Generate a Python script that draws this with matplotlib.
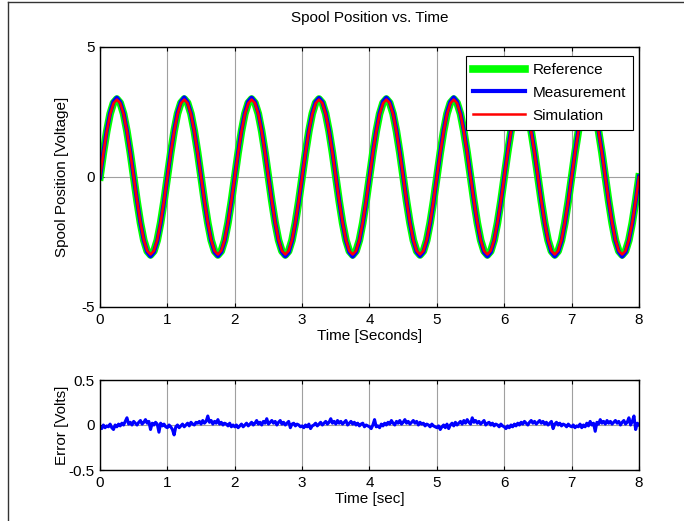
import numpy as np
import matplotlib
matplotlib.use('Agg')
import matplotlib.pyplot as plt
from matplotlib.lines import Line2D

plt.rcParams['font.family'] = ['Liberation Sans', 'DejaVu Sans']
plt.rcParams['font.size'] = 11
plt.rcParams['axes.unicode_minus'] = False

# time samples (seconds)
t = np.arange(161) * 0.05
t_err = np.arange(321) * 0.025

reference = [
    0.00, 0.93, 1.76, 2.43, 2.85, 3.00, 2.85, 2.43, 1.76, 0.93, 0.00, -0.93, -1.76, -2.43, -2.85, -3.00, -2.85, -2.43, -1.76, -0.93,
    0.00, 0.93, 1.76, 2.43, 2.85, 3.00, 2.85, 2.43, 1.76, 0.93, 0.00, -0.93, -1.76, -2.43, -2.85, -3.00, -2.85, -2.43, -1.76, -0.93,
    0.00, 0.93, 1.76, 2.43, 2.85, 3.00, 2.85, 2.43, 1.76, 0.93, 0.00, -0.93, -1.76, -2.43, -2.85, -3.00, -2.85, -2.43, -1.76, -0.93,
    0.00, 0.93, 1.76, 2.43, 2.85, 3.00, 2.85, 2.43, 1.76, 0.93, 0.00, -0.93, -1.76, -2.43, -2.85, -3.00, -2.85, -2.43, -1.76, -0.93,
    0.00, 0.93, 1.76, 2.43, 2.85, 3.00, 2.85, 2.43, 1.76, 0.93, 0.00, -0.93, -1.76, -2.43, -2.85, -3.00, -2.85, -2.43, -1.76, -0.93,
    0.00, 0.93, 1.76, 2.43, 2.85, 3.00, 2.85, 2.43, 1.76, 0.93, 0.00, -0.93, -1.76, -2.43, -2.85, -3.00, -2.85, -2.43, -1.76, -0.93,
    0.00, 0.93, 1.76, 2.43, 2.85, 3.00, 2.85, 2.43, 1.76, 0.93, 0.00, -0.93, -1.76, -2.43, -2.85, -3.00, -2.85, -2.43, -1.76, -0.93,
    0.00, 0.93, 1.76, 2.43, 2.85, 3.00, 2.85, 2.43, 1.76, 0.93, 0.00, -0.93, -1.76, -2.43, -2.85, -3.00, -2.85, -2.43, -1.76, -0.93,
    0.00,
]

measurement = [
    -0.02, 0.95, 1.79, 2.46, 2.90, 3.05, 2.88, 2.45, 1.77, 0.94, 0.01, -0.92, -1.77, -2.44, -2.88, -3.05, -2.89, -2.46, -1.79, -0.95,
    0.01, 0.96, 1.78, 2.47, 2.89, 3.06, 2.87, 2.44, 1.76, 0.93, -0.01, -0.94, -1.78, -2.45, -2.89, -3.04, -2.88, -2.45, -1.77, -0.94,
    0.02, 0.95, 1.80, 2.46, 2.90, 3.05, 2.89, 2.46, 1.78, 0.95, 0.02, -0.92, -1.76, -2.44, -2.88, -3.05, -2.90, -2.46, -1.78, -0.95,
    0.00, 0.94, 1.79, 2.45, 2.89, 3.04, 2.88, 2.45, 1.78, 0.95, 0.01, -0.93, -1.77, -2.45, -2.89, -3.06, -2.89, -2.45, -1.78, -0.96,
    -0.01, 0.95, 1.78, 2.46, 2.90, 3.05, 2.89, 2.46, 1.79, 0.95, 0.02, -0.92, -1.76, -2.44, -2.88, -3.04, -2.88, -2.46, -1.79, -0.95,
    -0.01, 0.94, 1.79, 2.47, 2.89, 3.06, 2.89, 2.45, 1.78, 0.96, 0.02, -0.93, -1.78, -2.45, -2.90, -3.05, -2.89, -2.45, -1.78, -0.94,
    0.01, 0.96, 1.79, 2.46, 2.90, 3.05, 2.88, 2.46, 1.77, 0.95, 0.01, -0.92, -1.77, -2.44, -2.89, -3.05, -2.88, -2.46, -1.78, -0.95,
    -0.01, 0.95, 1.80, 2.47, 2.89, 3.05, 2.89, 2.46, 1.78, 0.96, 0.03, -0.93, -1.76, -2.44, -2.88, -3.06, -2.90, -2.45, -1.79, -0.94,
    0.02,
]

simulation = [
    0.00, 0.92, 1.75, 2.41, 2.83, 2.98, 2.84, 2.42, 1.75, 0.92, 0.00, -0.92, -1.75, -2.42, -2.84, -2.98, -2.84, -2.42, -1.75, -0.92,
    0.00, 0.92, 1.75, 2.41, 2.83, 2.98, 2.84, 2.42, 1.75, 0.92, 0.00, -0.92, -1.75, -2.42, -2.84, -2.98, -2.84, -2.42, -1.75, -0.92,
    0.00, 0.92, 1.75, 2.41, 2.83, 2.98, 2.84, 2.42, 1.75, 0.92, 0.00, -0.92, -1.75, -2.42, -2.84, -2.98, -2.84, -2.42, -1.75, -0.92,
    0.00, 0.92, 1.75, 2.41, 2.83, 2.98, 2.84, 2.42, 1.75, 0.92, 0.00, -0.92, -1.75, -2.42, -2.84, -2.98, -2.84, -2.42, -1.75, -0.92,
    0.00, 0.92, 1.75, 2.41, 2.83, 2.98, 2.84, 2.42, 1.75, 0.92, 0.00, -0.92, -1.75, -2.42, -2.84, -2.98, -2.84, -2.42, -1.75, -0.92,
    0.00, 0.92, 1.75, 2.41, 2.83, 2.98, 2.84, 2.42, 1.75, 0.92, 0.00, -0.92, -1.75, -2.42, -2.84, -2.98, -2.84, -2.42, -1.75, -0.92,
    0.00, 0.92, 1.75, 2.41, 2.83, 2.98, 2.84, 2.42, 1.75, 0.92, 0.00, -0.92, -1.75, -2.42, -2.84, -2.98, -2.84, -2.42, -1.75, -0.92,
    0.00, 0.92, 1.75, 2.41, 2.83, 2.98, 2.84, 2.42, 1.75, 0.92, 0.00, -0.92, -1.75, -2.42, -2.84, -2.98, -2.84, -2.42, -1.75, -0.92,
    0.00,
]

error = [
    -0.02, -0.04, 0.00, -0.03, -0.01, -0.02, 0.01, -0.03, -0.05, 0.00, -0.02, 0.01, -0.01, 0.02, 0.00, 0.04, 0.08, 0.01, 0.03, 0.00,
    0.04, 0.02, 0.00, 0.03, 0.05, 0.01, 0.03, 0.06, 0.02, 0.04, -0.05, 0.02, 0.00, 0.03, 0.01, -0.08, 0.02, -0.01, 0.01, -0.02,
    -0.03, 0.00, -0.02, -0.05, -0.11, -0.02, 0.00, -0.03, -0.01, 0.01, -0.02, 0.00, 0.02, -0.01, 0.03, 0.01, 0.00, 0.03, 0.02, 0.04,
    0.01, 0.05, 0.02, 0.04, 0.10, 0.03, 0.05, 0.01, 0.04, 0.02, 0.06, 0.01, 0.03, 0.00, 0.02, 0.01, -0.01, 0.02, -0.02, 0.00,
    -0.02, 0.00, -0.03, -0.01, 0.01, -0.02, 0.00, 0.02, -0.01, 0.01, 0.03, 0.00, 0.02, 0.05, 0.01, 0.03, 0.00, 0.04, 0.02, 0.07,
    0.01, 0.03, 0.05, 0.02, 0.04, 0.00, 0.03, 0.05, 0.01, 0.03, 0.00, 0.02, 0.04, -0.03, 0.01, 0.02, -0.01, 0.01, 0.00, -0.02,
    -0.01, -0.03, 0.00, -0.02, 0.01, -0.04, -0.01, 0.00, 0.02, -0.01, 0.01, 0.03, 0.00, 0.02, 0.04, 0.01, 0.03, 0.07, 0.02, 0.04,
    0.01, 0.05, 0.02, 0.04, 0.01, 0.03, 0.05, 0.00, 0.02, 0.04, 0.01, 0.03, 0.00, 0.02, -0.01, 0.01, 0.02, -0.02, 0.00, -0.01,
    -0.02, -0.04, 0.00, 0.06, -0.02, -0.01, -0.03, 0.01, -0.01, 0.02, 0.00, 0.03, 0.01, 0.05, 0.02, 0.00, 0.04, 0.02, 0.05, 0.01,
    0.03, 0.06, 0.02, 0.04, 0.01, 0.03, 0.05, 0.02, 0.04, 0.00, 0.03, 0.01, 0.02, -0.01, 0.01, 0.00, -0.02, 0.01, -0.01, -0.02,
    -0.03, -0.01, -0.05, -0.02, 0.00, -0.03, 0.01, -0.04, 0.00, 0.02, -0.01, 0.03, 0.00, 0.02, 0.04, 0.01, 0.05, 0.02, 0.06, 0.03,
    0.01, 0.08, 0.03, 0.05, 0.02, 0.04, 0.01, 0.03, 0.05, 0.00, 0.02, 0.03, 0.00, 0.02, -0.01, 0.01, 0.00, -0.02, 0.01, -0.01,
    -0.02, -0.04, -0.01, -0.03, 0.00, -0.02, 0.01, -0.01, 0.02, 0.00, 0.03, 0.01, 0.04, 0.02, 0.00, 0.03, 0.05, 0.02, 0.04, 0.01,
    0.03, 0.05, 0.02, 0.04, 0.01, 0.03, 0.00, 0.02, 0.04, -0.04, 0.01, 0.03, 0.00, 0.02, -0.01, 0.01, 0.00, -0.02, 0.01, -0.01,
    -0.02, 0.00, -0.03, -0.01, -0.02, 0.01, -0.03, 0.00, -0.02, 0.02, -0.01, 0.04, 0.00, 0.02, -0.07, 0.03, 0.01, 0.06, 0.02, 0.04,
    0.01, 0.05, 0.02, 0.04, 0.01, 0.03, 0.05, 0.02, 0.04, 0.00, 0.03, 0.05, 0.01, 0.03, 0.08, 0.00, 0.04, 0.10, -0.05, 0.02,
    0.00,
]

fig = plt.figure(figsize=(6.84, 5.21), dpi=100)

# frame around figure (left and top edges visible)
fig.add_artist(Line2D([8 / 684, 8 / 684], [0, 1 - 2 / 521], transform=fig.transFigure, color='#333333', lw=1))
fig.add_artist(Line2D([8 / 684, 1], [1 - 2 / 521, 1 - 2 / 521], transform=fig.transFigure, color='#333333', lw=1))


def style_axes(ax):
    ax.tick_params(direction='in', top=True, right=True, length=3, width=0.8, labelsize=11, pad=4)
    ax.grid(True, color='#a0a0a0', linewidth=0.8)
    ax.set_axisbelow(True)
    for s in ax.spines.values():
        s.set_linewidth(1.0)
    ax.yaxis.set_label_coords(-0.058, 0.5)


ax1 = fig.add_axes([100 / 684, 1 - 307 / 521, 539 / 684, 260 / 521])
ax1.plot(t, reference, color='#00ff00', linewidth=5.5, label='Reference')
ax1.plot(t, measurement, color='#0000ff', linewidth=3, label='Measurement')
ax1.plot(t, simulation, color='#ff0000', linewidth=1.8, label='Simulation')
ax1.set_xlim(0, 8)
ax1.set_ylim(-5, 5)
ax1.set_xticks(range(9))
ax1.set_yticks([-5, 0, 5])
ax1.set_title('Spool Position vs. Time', fontsize=11, pad=18)
ax1.set_xlabel('Time [Seconds]', fontsize=11, labelpad=2)
ax1.set_ylabel('Spool Position [Voltage]', fontsize=11)
style_axes(ax1)
leg = ax1.legend(loc='upper right', bbox_to_anchor=(0.989, 0.965), fancybox=False, framealpha=1,
                 edgecolor='black', fontsize=11, handlelength=3.4, labelspacing=0.58,
                 borderpad=0.45, handletextpad=0.5, borderaxespad=0)
leg.get_frame().set_linewidth(0.8)

ax2 = fig.add_axes([100 / 684, 1 - 470 / 521, 539 / 684, 90 / 521])
ax2.plot(t_err, error, color='#0000ff', linewidth=2.2)
ax2.set_xlim(0, 8)
ax2.set_ylim(-0.5, 0.5)
ax2.set_xticks(range(9))
ax2.set_yticks([-0.5, 0, 0.5])
ax2.set_yticklabels(['-0.5', '0', '0.5'])
ax2.set_xlabel('Time [sec]', fontsize=11, labelpad=2)
ax2.set_ylabel('Error [Volts]', fontsize=11)
style_axes(ax2)

fig.savefig('out.png', dpi=100)
